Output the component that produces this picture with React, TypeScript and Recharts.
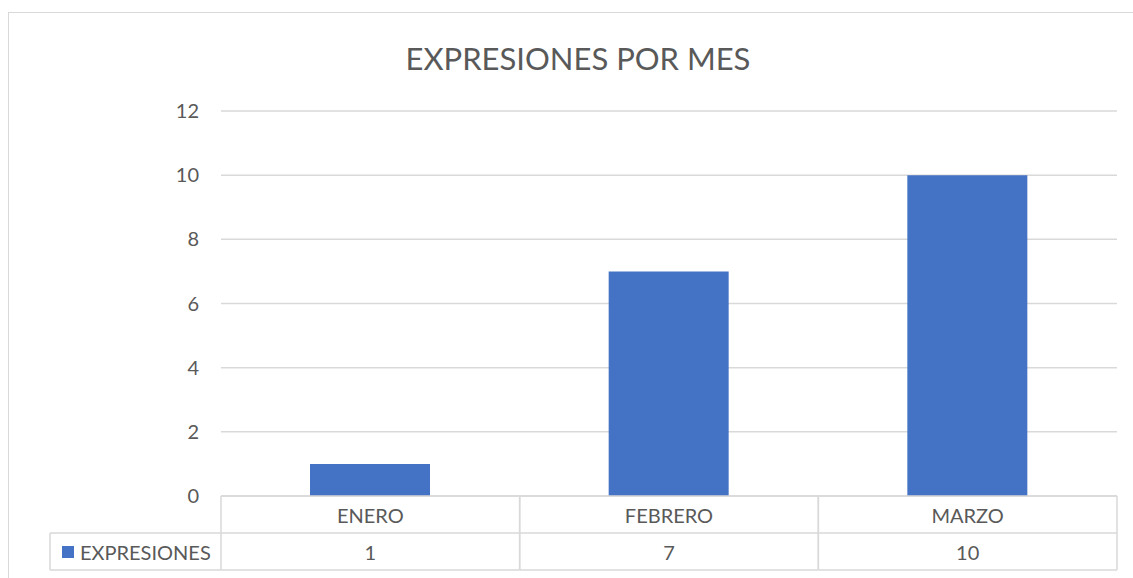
import React from 'react';
import { BarChart, Bar, XAxis, YAxis, CartesianGrid } from 'recharts';

const MONTHS = ['ENERO', 'FEBRERO', 'MARZO'];
const EXPRESIONES = [1, 7, 10];
const Y_TICKS = [0, 2, 4, 6, 8, 10, 12];
const SERIES_NAME = 'EXPRESIONES';

const W = 1133;
const H = 578;
const PLOT_LEFT = 221;
const PLOT_RIGHT = 1117;
const LINE = '#d9d9d9';
const TEXT = '#595959';
const BLUE = '#4472c4';
const FONT = 'Lato, "Open Sans", sans-serif';
const FS = 20;
const ROW_H = 37;

const data = MONTHS.map((m, i) => ({ month: m, value: EXPRESIONES[i] }));

// draws the data table under the axis, one column per category
const TableTick = (props: any) => {
  const { x, y, payload, index } = props;
  const band = (PLOT_RIGHT - PLOT_LEFT) / MONTHS.length;
  const left = x - band / 2;
  const right = x + band / 2;
  const top = y;
  const i = payload.index ?? index;
  const value = EXPRESIONES[i];
  return (
    <g>
      <line x1={left} y1={top} x2={left} y2={top + ROW_H * 2} stroke={LINE} strokeWidth={1.5} />
      <line x1={right} y1={top} x2={right} y2={top + ROW_H * 2} stroke={LINE} strokeWidth={1.5} />
      <line x1={left} y1={top + ROW_H} x2={right} y2={top + ROW_H} stroke={LINE} strokeWidth={1.5} />
      <line x1={left} y1={top + ROW_H * 2} x2={right} y2={top + ROW_H * 2} stroke={LINE} strokeWidth={1.5} />
      <text x={x} y={top + 27} textAnchor="middle" fill={TEXT} fontSize={FS} fontFamily={FONT}>{payload.value}</text>
      <text x={x} y={top + ROW_H + 27} textAnchor="middle" fill={TEXT} fontSize={FS} fontFamily={FONT}>{value}</text>
      {i === 0 && (
        <g>
          <line x1={50} y1={top + ROW_H} x2={left} y2={top + ROW_H} stroke={LINE} strokeWidth={1.5} />
          <line x1={50} y1={top + ROW_H * 2} x2={left} y2={top + ROW_H * 2} stroke={LINE} strokeWidth={1.5} />
          <line x1={50} y1={top + ROW_H} x2={50} y2={top + ROW_H * 2} stroke={LINE} strokeWidth={1.5} />
          <rect x={62} y={top + ROW_H + 13} width={12} height={12} fill={BLUE} />
          <text x={80} y={top + ROW_H + 27} fill={TEXT} fontSize={FS} fontFamily={FONT}>{SERIES_NAME}</text>
        </g>
      )}
    </g>
  );
};

export default function App() {
  return (
    <div style={{ position: 'absolute', left: 0, top: 0, width: W, height: H, overflow: 'hidden', background: '#fff', fontFamily: FONT }}>
      <div style={{ position: 'absolute', left: 8, top: 12, width: W + 20, height: H + 20, border: `1.5px solid ${LINE}` }} />
      <div style={{ position: 'absolute', left: 0, top: 38, width: 1156, textAlign: 'center', fontSize: 31, color: TEXT, lineHeight: '40px' }}>
        EXPRESIONES POR MES
      </div>
      <div style={{ position: 'absolute', left: 0, top: 0 }}>
        <BarChart width={W} height={H} data={data} margin={{ top: 111, right: W - PLOT_RIGHT, bottom: 7, left: PLOT_LEFT - 40 }} barCategoryGap="30%">
          <CartesianGrid vertical={false} stroke={LINE} strokeWidth={1.5} />
          <YAxis
            width={40}
            domain={[0, 12]}
            ticks={Y_TICKS}
            axisLine={false}
            tickLine={false}
            tickSize={0}
            tickMargin={22}
            tick={{ fill: TEXT, fontSize: FS, fontFamily: FONT }}
          />
          <XAxis
            dataKey="month"
            height={75}
            axisLine={{ stroke: LINE, strokeWidth: 1.5 }}
            tickLine={false}
            tickSize={0}
            tickMargin={0}
            interval={0}
            tick={<TableTick />}
          />
          <Bar dataKey="value" fill={BLUE} barSize={120} isAnimationActive={false} />
        </BarChart>
      </div>
    </div>
  );
}
